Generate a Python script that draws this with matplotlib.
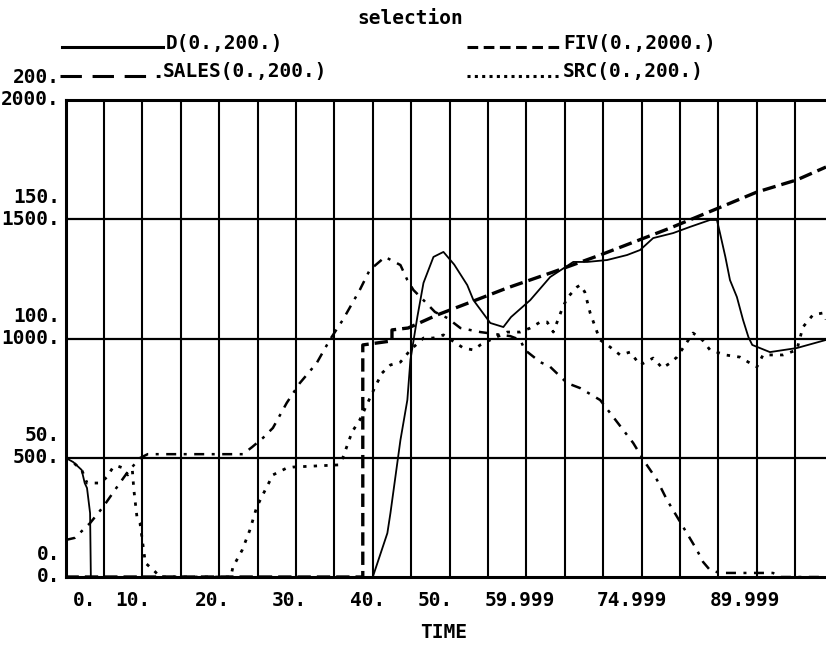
import matplotlib
matplotlib.use("Agg")
import matplotlib.pyplot as plt
from matplotlib.lines import Line2D

# --- data (TIME, value) ---
# FIV on the 0..2000 scale
FIV_T = [0, 38.7, 38.7, 42.5, 42.5, 44.6, 48.4, 53.1, 57.5, 63.5, 69.6, 78.7, 85.0, 90.0, 95.2, 99.0]
FIV_V = [0, 0, 973, 990, 1036, 1044, 1099, 1157, 1212, 1279, 1350, 1463, 1547, 1614, 1665, 1719]

# D, SALES, SRC on the 0..200 scale
D_T = [0, 1.0, 2.1, 2.5, 2.8, 3.2, 3.3, 40.0, 41.9, 42.3, 43.6, 44.5, 44.9, 45.8, 46.6, 47.9,
       49.2, 50.6, 52.3, 53.1, 55.3, 57.0, 58.0, 60.5, 63.1, 66.1, 67.9, 70.5, 73.1, 74.8, 76.5,
       79.1, 81.3, 83.9, 84.8, 85.2, 85.9, 86.5, 87.4, 88.2, 88.9, 89.4, 91.7, 95.2, 99.0]
D_V = [50, 48.2, 44.9, 39.4, 37.3, 26.8, 0, 0, 18.4, 26.8, 57.4, 74.2, 91.0, 109.0, 123.3, 134.2,
       136.3, 131.0, 122.4, 116.1, 106.5, 104.8, 109.0, 116.1, 125.8, 132.1, 132.1, 132.9, 135.0, 137.1, 142.1,
       144.2, 146.8, 149.7, 149.7, 144.2, 134.2, 124.5, 117.4, 107.8, 100.6, 97.3, 94.3, 96.0, 99.4]

SALES_T = [0, 1.2, 3.2, 4.9, 6.7, 8.0, 9.7, 10.7, 23.1, 24.3, 25.7, 27.0, 28.8, 30.5, 32.7, 34.4,
           36.1, 38.3, 39.6, 41.6, 43.6, 44.5, 45.3, 46.6, 48.1, 49.7, 51.4, 54.0, 57.9, 59.2, 59.8,
           61.8, 63.1, 65.3, 67.0, 69.6, 71.3, 73.9, 75.5, 77.0, 78.3, 80.4, 82.2, 83.0, 83.9, 85.2,
           92.1, 93.0, 99.0]
SALES_V = [15.5, 16.4, 22.6, 29.4, 37.7, 43.6, 49.9, 51.5, 51.5, 54.5, 58.3, 62.5, 73.0, 81.3, 89.7, 99.4,
           107.8, 120.3, 128.7, 134.2, 130.8, 124.5, 120.3, 116.1, 111.1, 108.6, 104.4, 102.7, 101.0, 99.4, 95.2,
           90.1, 88.1, 81.3, 79.2, 74.2, 67.1, 56.2, 47.8, 40.7, 32.3, 21.0, 11.3, 6.3, 2.9, 1.7,
           1.7, 0, 0]

SRC_T = [0, 1.0, 2.1, 2.8, 3.2, 4.5, 5.4, 6.2, 6.8, 7.5, 8.1, 8.7, 8.9, 9.3, 9.7, 10.4, 11.7, 12.3,
         21.5, 21.8, 23.0, 24.0, 24.9, 26.0, 27.0, 28.8, 29.6, 35.5, 36.0, 37.3, 38.3, 40.3, 41.2, 42.3,
         43.6, 44.9, 46.6, 47.9, 49.2, 51.8, 53.1, 54.0, 55.3, 57.5, 59.2, 60.5, 61.8, 62.7, 63.5, 64.6,
         65.3, 66.6, 67.0, 67.6, 68.3, 69.2, 69.6, 70.9, 72.2, 73.5, 74.8, 76.5, 77.7, 78.7, 79.6, 81.7,
         82.9, 83.9, 85.9, 87.8, 89.1, 90.0, 90.8, 93.4, 95.2, 96.0, 97.3, 98.6, 99.0]
SRC_V = [50, 48.0, 45.0, 39.4, 39.4, 39.4, 41.9, 46.1, 46.5, 45.7, 42.8, 44.9, 36.5, 25.2, 22.6, 5.9, 2.1, 0,
         0, 4.2, 11.3, 19.7, 29.4, 36.5, 42.8, 45.7, 46.1, 47.0, 49.1, 60.8, 65.8, 79.7, 85.5, 88.9,
         90.1, 95.2, 100.2, 100.2, 101.5, 96.0, 95.2, 97.3, 99.4, 102.7, 102.7, 104.4, 106.9, 106.9, 102.7, 112.0,
         117.0, 121.6, 122.4, 119.5, 110.7, 102.7, 99.4, 96.4, 93.1, 94.3, 88.9, 91.8, 87.6, 89.7, 92.2, 102.3,
         99.4, 95.2, 93.1, 92.2, 89.7, 88.1, 93.1, 93.1, 95.2, 104.8, 109.9, 110.7, 108.0]

XTICK_POS = [2.5, 8.8, 19.1, 29.1, 39.3, 48.1, 59.2, 73.8, 88.5]
XTICK_LABELS = ["0.", "10.", "20.", "30.", "40.", "50.", "59.999", "74.999", "89.999"]
Y_LEVELS = [0, 500, 1000, 1500, 2000]
Y_LABELS_BIG = ["0.", "500.", "1000.", "1500.", "2000."]
Y_LABELS_SMALL = ["0.", "50.", "100.", "150.", "200."]

FS = 14
plt.rcParams["font.family"] = ["DejaVu Sans Mono"]
plt.rcParams["font.weight"] = "bold"

W, H = 826, 646
fx = lambda px: px / W
fy = lambda py: 1 - py / H

fig = plt.figure(figsize=(W / 100, H / 100), dpi=100)
ax = fig.add_axes([fx(65.5), fy(577), (W - 65.5) / W, 477 / H])
ax2 = ax.twinx()
ax.set_xlim(0, 99); ax.set_ylim(0, 2000)
ax2.set_ylim(0, 200)

# grid
for t in range(5, 100, 5):
    ax.axvline(t, color="k", lw=1.5, zorder=1)
for v in Y_LEVELS[1:-1]:
    ax.axhline(v, color="k", lw=1.6, zorder=1)
for s in ("top", "left", "bottom"):
    ax.spines[s].set_linewidth(2.2)
ax.spines["right"].set_visible(False)
for s in ax2.spines.values():
    s.set_visible(False)

# series
ax2.plot(D_T, D_V, color="k", lw=1.3, zorder=3)
ax2.plot(SALES_T, SALES_V, color="k", lw=1.8, ls=(0, (4, 3, 1.2, 3)), zorder=3)
ax.plot(FIV_T, FIV_V, color="k", lw=2.4, ls=(0, (4, 1.8)), zorder=3)
ax2.plot(SRC_T, SRC_V, color="k", lw=2.0, ls=(0, (1.2, 2.6)), zorder=3)

# x ticks
ax.set_xticks(XTICK_POS)
ax.set_xticklabels(XTICK_LABELS, fontsize=FS, fontweight="bold")
ax.tick_params(axis="x", length=0, pad=10)
ax.set_yticks([]); ax2.set_yticks([])

# stacked y labels: 0..2000 scale at the gridline, 0..200 scale just above
for v, big, small in zip(Y_LEVELS, Y_LABELS_BIG, Y_LABELS_SMALL):
    ax.annotate(big, xy=(0, v), xycoords=("axes fraction", "data"), xytext=(-4, 0),
                textcoords="offset points", ha="right", va="center", fontsize=FS, fontweight="bold",
                annotation_clip=False)
    ax.annotate(small, xy=(0, v), xycoords=("axes fraction", "data"), xytext=(-4, 16),
                textcoords="offset points", ha="right", va="center", fontsize=FS, fontweight="bold",
                annotation_clip=False)

fig.text(fx(420), fy(632), "TIME", ha="left", va="center", fontsize=FS, fontweight="bold")
fig.text(fx(410), fy(18), "selection", ha="center", va="center", fontsize=FS, fontweight="bold")

# legend
rows = [(43, 62, 163, "-", "D(0.,200.)"),
        (72, 60, 160, (0, (7, 3.5)), "SALES(0.,200.)"),
        (43, 467, 560, (0, (3.5, 1.8)), "FIV(0.,2000.)"),
        (72, 467, 560, (0, (1, 1.4)), "SRC(0.,200.)")]
for y, x0, x1, ls, lab in rows:
    fig.add_artist(Line2D([fx(x0), fx(x1)], [fy(y + 4), fy(y + 4)], transform=fig.transFigure,
                          color="k", lw=2.2, ls=ls))
    fig.text(fx(x1 + 3), fy(y), lab, ha="left", va="center", fontsize=FS, fontweight="bold")

fig.savefig("out.png", dpi=100)
